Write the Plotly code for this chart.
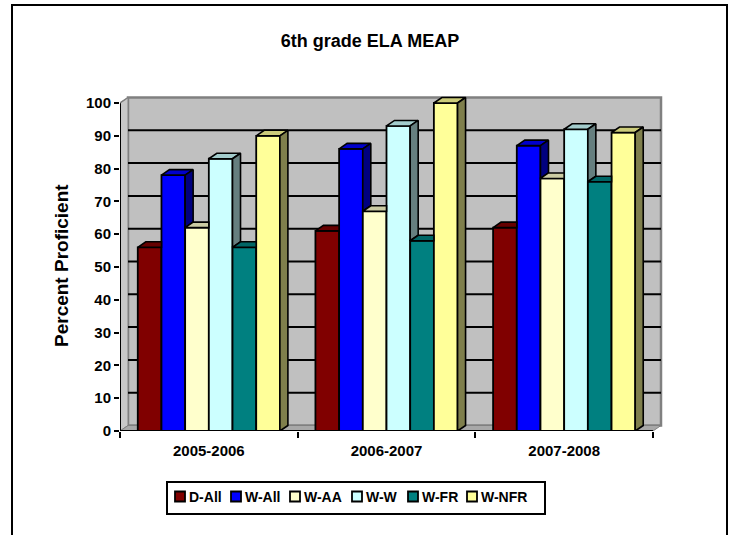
import plotly.graph_objects as go

# ---- data -------------------------------------------------------------
YEARS = ["2005-2006", "2006-2007", "2007-2008"]
GROUPS = ["D-All", "W-All", "W-AA", "W-W", "W-FR", "W-NFR"]
D_ALL = [56, 61, 62]
W_ALL = [78, 86, 87]
W_AA = [62, 67, 77]
W_W = [83, 93, 92]
W_FR = [56, 58, 76]
W_NFR = [90, 100, 91]
Y_TICKS = list(range(0, 101, 10))

SERIES = [D_ALL, W_ALL, W_AA, W_W, W_FR, W_NFR]
COLORS = ["#800000", "#0000FF", "#FFFFCC", "#CCFFFF", "#008080", "#FFFF99"]

# ---- layout geometry --------------------------------------------------
W_PX, H_PX = 735, 535
ML, MR, MT, MB = 120, 72, 93, 104
PW = W_PX - ML - MR
PH = H_PX - MT - MB
XSCALE = 533 / 3.0          # px per category
YSCALE = 3.28               # px per percent
X_LO = -0.5
X_HI = X_LO + PW / XSCALE
Y_HI = PH / YSCALE
DX = 8 / XSCALE             # depth offset of the 3-D look
DY = 5.5 / YSCALE
BARGAP = 0.2
BW = (1 - BARGAP) / len(SERIES)
FONT = "Liberation Sans, Arial, sans-serif"


def shade(hexc, f):
    r, g, b = (int(hexc[i:i + 2], 16) for i in (1, 3, 5))
    return f"rgb({int(r * f)},{int(g * f)},{int(b * f)})"


def px_x(px):
    return (px - ML) / PW


def px_y(py):
    return (H_PX - MB - py) / PH


def poly(xs, ys, pts):
    for (x, y) in pts + [pts[0]]:
        xs.append(x)
        ys.append(y)
    xs.append(None)
    ys.append(None)


fig = go.Figure()

# front faces
for i, (name, vals, col) in enumerate(zip(GROUPS, SERIES, COLORS)):
    off = -(1 - BARGAP) / 2 + i * BW
    fig.add_trace(go.Bar(
        x=list(range(len(YEARS))), y=vals, width=BW, offset=off, name=name,
        marker=dict(color=col, line=dict(color="black", width=1.8)),
        showlegend=False, hoverinfo="skip"))

# top and side faces, clipped by the neighbouring bar
for i, (vals, col) in enumerate(zip(SERIES, COLORS)):
    off = -(1 - BARGAP) / 2 + i * BW
    tx, ty, sx, sy = [], [], [], []
    for j, v in enumerate(vals):
        x0 = j + off
        x1 = x0 + BW
        vn = SERIES[i + 1][j] if i + 1 < len(SERIES) else 0
        if i + 1 < len(SERIES) and vn > v:
            poly(tx, ty, [(x0, v), (x1, v), (x1, v + DY), (x0 + DX, v + DY)])
        else:
            poly(tx, ty, [(x0, v), (x1, v), (x1 + DX, v + DY), (x0 + DX, v + DY)])
        if vn < v:
            b = vn
            poly(sx, sy, [(x1, b), (x1, v), (x1 + DX, v + DY), (x1 + DX, b + DY)])
    fig.add_trace(go.Scatter(x=tx, y=ty, mode="lines", fill="toself",
                             fillcolor=shade(col, 0.8),
                             line=dict(color="black", width=1.6),
                             showlegend=False, hoverinfo="skip"))
    if sx:
        fig.add_trace(go.Scatter(x=sx, y=sy, mode="lines", fill="toself",
                                 fillcolor=shade(col, 0.5),
                                 line=dict(color="black", width=1.6),
                                 showlegend=False, hoverinfo="skip"))

shapes = []
x_end = X_LO + len(YEARS)
top = Y_TICKS[-1]
# back wall
shapes.append(dict(type="rect", xref="x", yref="y", layer="below",
                   x0=X_LO + DX, x1=x_end + DX, y0=DY, y1=top + DY,
                   fillcolor="#C0C0C0", line=dict(color="#808080", width=2.5)))
# side wall
shapes.append(dict(type="path", xref="x", yref="y", layer="below",
                   path=f"M{X_LO},0 L{X_LO},{top} L{X_LO + DX},{top + DY} L{X_LO + DX},{DY} Z",
                   fillcolor="#C8C8C8", line=dict(color="#808080", width=1)))
# floor
shapes.append(dict(type="path", xref="x", yref="y", layer="below",
                   path=f"M{X_LO},0 L{x_end},0 L{x_end + DX},{DY} L{X_LO + DX},{DY} Z",
                   fillcolor="#A8A8A8", line=dict(color="#808080", width=1)))
# gridlines on the back wall
for t in Y_TICKS[1:-1]:
    shapes.append(dict(type="line", xref="x", yref="y", layer="below",
                       x0=X_LO + DX, x1=x_end + DX, y0=t + DY, y1=t + DY,
                       line=dict(color="black", width=2)))
# axis lines
shapes.append(dict(type="line", xref="x", yref="y", x0=X_LO, x1=X_LO, y0=0, y1=top,
                   line=dict(color="black", width=2)))
shapes.append(dict(type="line", xref="x", yref="y", x0=X_LO, x1=x_end, y0=0, y1=0,
                   line=dict(color="black", width=2)))
shapes.append(dict(type="line", xref="x", yref="y", x0=X_LO, x1=X_LO + DX, y0=top, y1=top + DY,
                   line=dict(color="#808080", width=1.5)))

# chart border
shapes.append(dict(type="rect", xref="paper", yref="paper",
                   x0=px_x(12), x1=px_x(727), y0=px_y(545), y1=px_y(5),
                   line=dict(color="black", width=2), fillcolor="rgba(0,0,0,0)"))

# legend box and entries
LEG_X = [175, 231, 290, 352, 408, 467]
LEG_Y = 496.5
shapes.append(dict(type="rect", xref="paper", yref="paper",
                   x0=px_x(167), x1=px_x(545), y0=px_y(514), y1=px_y(482),
                   line=dict(color="black", width=2), fillcolor="white"))
annotations = []
for lx, name, col in zip(LEG_X, GROUPS, COLORS):
    shapes.append(dict(type="rect", xref="paper", yref="paper",
                       x0=px_x(lx), x1=px_x(lx + 10), y0=px_y(LEG_Y + 5), y1=px_y(LEG_Y - 5),
                       fillcolor=col, line=dict(color="black", width=1.8)))
    annotations.append(dict(xref="paper", yref="paper", x=px_x(lx + 12), y=px_y(LEG_Y),
                            xanchor="left", yanchor="middle", showarrow=False, text=name,
                            font=dict(family=FONT, size=14, color="black", weight="bold")))

annotations.append(dict(xref="paper", yref="paper", x=px_x(61), y=px_y(266),
                        xanchor="center", yanchor="middle", showarrow=False,
                        text="Percent Proficient", textangle=-90,
                        font=dict(family=FONT, size=19, color="black", weight="bold")))

fig.update_layout(
    width=W_PX, height=H_PX,
    margin=dict(l=ML, r=MR, t=MT, b=MB, autoexpand=False),
    paper_bgcolor="white", plot_bgcolor="white",
    barmode="overlay",
    title=dict(text="6th grade ELA MEAP", xref="container", yref="container",
               x=370 / W_PX, y=1 - 41 / H_PX, xanchor="center", yanchor="middle",
               font=dict(family=FONT, size=18, color="black", weight="bold")),
    xaxis=dict(range=[X_LO, X_HI], tickvals=list(range(len(YEARS))), ticktext=YEARS,
               ticks="outside", ticklen=6, tickcolor="rgba(0,0,0,0)",
               minor=dict(tickvals=[X_LO + k for k in range(len(YEARS) + 1)],
                          ticks="outside", ticklen=6, tickwidth=2, tickcolor="black",
                          showgrid=False),
               showgrid=False, zeroline=False, showline=False,
               tickfont=dict(family=FONT, size=15, color="black", weight="bold")),
    yaxis=dict(range=[0, Y_HI], tickvals=Y_TICKS, ticks="outside", ticklen=5,
               tickwidth=2, tickcolor="black", showgrid=False, zeroline=False,
               showline=False,
               tickfont=dict(family=FONT, size=15, color="black", weight="bold")),
    shapes=shapes, annotations=annotations,
)

fig.write_html("out.html")
